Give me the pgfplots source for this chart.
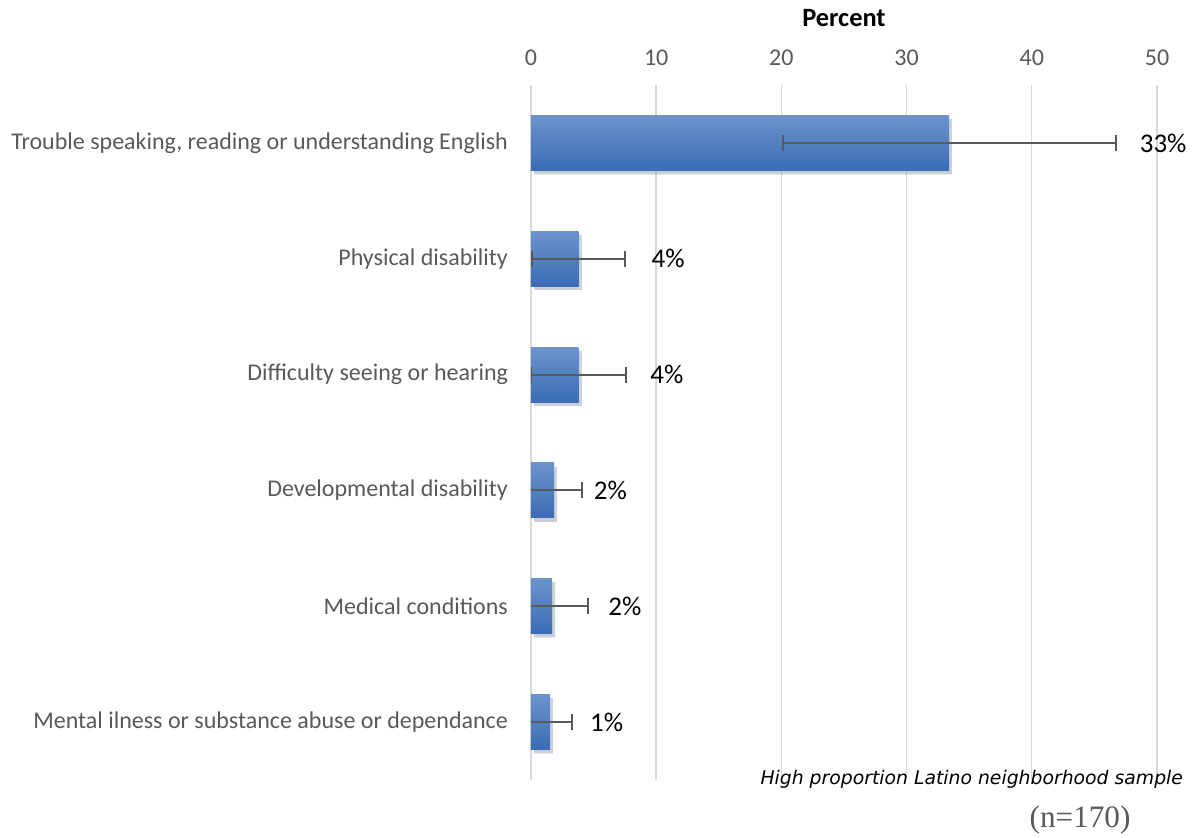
\documentclass[border=0pt]{standalone}
\usepackage{fontspec}
\setmainfont{Carlito}
\newfontfamily\verd{DejaVu Sans}
\newfontfamily\serifn{Liberation Serif}
\usepackage{pgfplots}
\pgfplotsset{compat=1.18}
\usetikzlibrary{shadows}
\definecolor{txtgray}{HTML}{595959}
\definecolor{gridgray}{HTML}{D9D9D9}
\definecolor{bartop}{HTML}{6C93CC}
\definecolor{barbot}{HTML}{3A6CB4}
\definecolor{errgray}{HTML}{595959}

\pgfplotsset{
  mybar/.style={xbar, bar width=27.5pt, bar shift=0pt, draw=none,
    top color=bartop, bottom color=barbot,
    drop shadow={shadow xshift=1.5pt, shadow yshift=-1.8pt, opacity=0.13, fill=black},
    error bars/.cd, x dir=both, x explicit,
    error bar style={line width=1pt, color=errgray},
    error mark options={line width=1pt, color=errgray, mark size=4pt, rotate=90}},
}

\begin{document}
\begin{tikzpicture}
\useasboundingbox (0,0) rectangle (597.5pt,418.5pt);
\begin{axis}[
  at={(265.5pt,28.5pt)}, anchor=south west,
  scale only axis, width=313pt, height=347.5pt,
  xmin=0, xmax=50, ymin=-0.5, ymax=5.5,
  y dir=reverse,
  xtick={0,10,...,50},
  ytick={0,1,2,3,4,5},
  yticklabels={{Trouble speaking, reading or understanding English},{Physical disability},{Difficulty seeing or hearing},{Developmental disability},{Medical conditions},{Mental ilness or substance abuse or dependance}},
  xticklabel pos=upper,
  axis line style={draw=none},
  major tick style={draw=none},
  xmajorgrids, grid style={gridgray, line width=0.7pt},
  /pgf/number format/assume math mode=true,
  tick label style={font=\fontsize{12}{13}\selectfont, text=txtgray},
  xticklabel style={yshift=6pt},
  yticklabel style={xshift=-8pt},
]
\addplot[mybar] coordinates {(33.4,0) +- (13.3,0)};
\addplot[mybar] coordinates {(3.8,1) +- (3.7,0)};
\addplot[mybar] coordinates {(3.8,2) +- (3.8,0)};
\addplot[mybar] coordinates {(1.84,3) +- (2.23,0)};
\addplot[mybar] coordinates {(1.68,4) +- (2.87,0)};
\addplot[mybar] coordinates {(1.52,5) +- (1.75,0)};
\addplot[only marks, mark=none, nodes near coords={\pgfplotspointmeta\%},
  point meta=explicit symbolic,
  nodes near coords style={anchor=west, inner sep=0pt, font=\fontsize{13.5}{15}\selectfont, text=black}]
  table[x=x, y=y, meta=lab] {
y x lab
0 48.6 33
1 9.6 4
2 9.5 4
3 5.0 2
4 6.15 2
5 4.7 1
};
\end{axis}
\node[font=\bfseries\fontsize{13.2}{15}\selectfont] at (422pt,409.5pt) {Percent};
\node[anchor=east, font=\verd\itshape\fontsize{9.4}{11}\selectfont] at (595pt,29pt) {High proportion Latino neighborhood sample};
\node[font=\serifn\fontsize{15.6}{17}\selectfont, text=txtgray] at (540pt,8.5pt) {(n=170)};
\end{tikzpicture}
\end{document}
